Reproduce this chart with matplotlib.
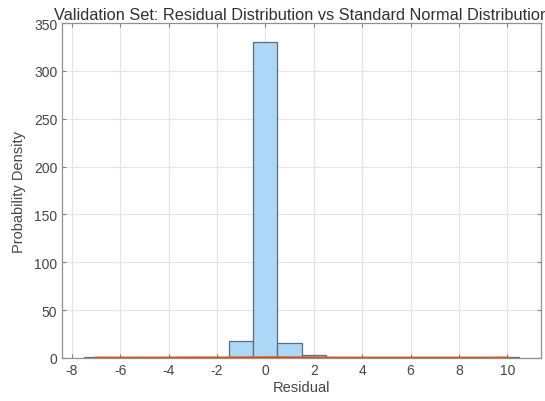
import numpy as np
import matplotlib.pyplot as plt

plt.rcParams['font.family'] = ['Liberation Sans', 'DejaVu Sans']
plt.rcParams['axes.unicode_minus'] = False

# 直方图数据（bin 边界 + 高度，读图估计）
bin_edges = [-7.5, -6.5, -5.5, -4.5, -3.5, -2.5, -1.5, -0.5, 0.5, 1.5, 2.5,
             3.5, 4.5, 5.5, 6.5, 7.5, 8.5, 9.5, 10.5]
bin_heights = [1.0, 0, 0, 0, 1.2, 0, 18, 330, 16, 3, 0,
               0, 0, 0, 0, 0, 0, 1.0]

# 标准正态分布曲线范围
curve_range = [-7.0, 10.0]

x_ticks = [-8, -6, -4, -2, 0, 2, 4, 6, 8, 10]
y_ticks = [0, 50, 100, 150, 200, 250, 300, 350]

txt_color = '#454545'

fig = plt.figure(figsize=(5.45, 4.02), dpi=100)
ax = fig.add_axes([0.114, 0.107, 0.879, 0.833])

edges = np.array(bin_edges)
heights = np.array(bin_heights)
widths = np.diff(edges)
keep = heights > 0
ax.bar(edges[:-1][keep], heights[keep], width=widths[keep], align='edge',
       color='#acd8f7', edgecolor='#5a6f80', linewidth=0.9, zorder=2)

xc = np.linspace(curve_range[0], curve_range[1], 400)
pdf = np.exp(-xc ** 2 / 2) / np.sqrt(2 * np.pi)
ax.plot(xc, pdf, color='#d95319', lw=2, zorder=3)

ax.set_xlim(-8.4, 11.4)
ax.set_ylim(0, 350)
ax.set_xticks(x_ticks)
ax.set_yticks(y_ticks)
ax.grid(True, color='#e3e3e3', lw=0.8, zorder=0)
ax.set_axisbelow(True)
ax.tick_params(direction='in', top=True, right=True, length=3,
               colors='#808080', labelcolor=txt_color, labelsize=10)
for s in ax.spines.values():
    s.set_color('#909090')
    s.set_linewidth(0.9)

ax.set_title('Validation Set: Residual Distribution vs Standard Normal Distribution',
             fontsize=11.8, color='#303030', pad=3)
ax.set_xlabel('Residual', fontsize=10.5, color=txt_color, labelpad=2)
ax.set_ylabel('Probability Density', fontsize=10.5, color=txt_color, labelpad=6)

fig.savefig('out.png', dpi=100)
